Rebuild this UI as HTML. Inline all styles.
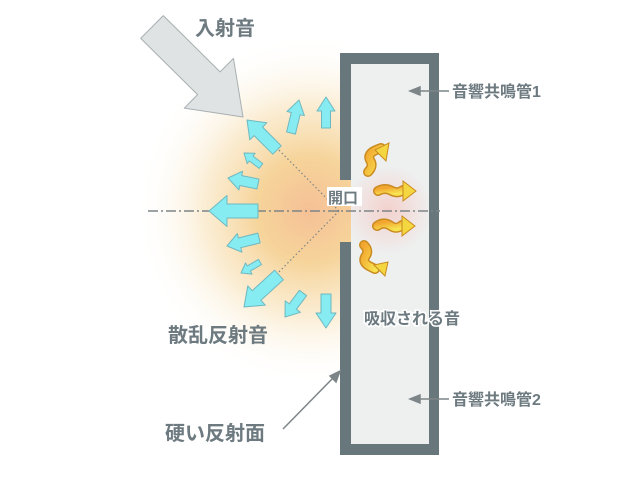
<!DOCTYPE html>
<html><head><meta charset="utf-8"><style>
html,body{margin:0;padding:0;background:#fff;width:640px;height:480px;overflow:hidden}
svg{display:block}
text{font-family:"Liberation Sans","Noto Sans CJK JP",sans-serif;font-weight:bold;fill:#6d7a80}
</style></head><body>
<svg id="s" width="640" height="480" viewBox="0 0 640 480" xmlns="http://www.w3.org/2000/svg">
<defs>
<radialGradient id="glow" cx="310" cy="210" r="175" gradientUnits="userSpaceOnUse">
<stop offset="0" stop-color="#f5c096"/>
<stop offset="0.3" stop-color="#f6d49a"/>
<stop offset="0.6" stop-color="#faeacc" stop-opacity="0.85"/>
<stop offset="1" stop-color="#ffffff" stop-opacity="0"/>
</radialGradient>
<radialGradient id="rg" cx="0.5" cy="0.5" r="0.5">
<stop offset="0" stop-color="#f7b8b0" stop-opacity="0.55"/>
<stop offset="1" stop-color="#f7b8b0" stop-opacity="0"/>
</radialGradient>
<linearGradient id="og" x1="0" y1="0" x2="1" y2="1">
<stop offset="0" stop-color="#f2a630"/><stop offset="1" stop-color="#f7e250"/>
</linearGradient>
<clipPath id="cl"><rect x="0" y="0" width="351" height="480"/></clipPath>
</defs>
<ellipse cx="300" cy="212" rx="170" ry="180" fill="url(#glow)" clip-path="url(#cl)"/>
<rect x="351" y="64" width="78" height="380" fill="#eef0f0"/>
<circle cx="388" cy="210" r="45" fill="url(#rg)"/>
<path d="M340 180 V53 H439 V455 H340 V242 H351 V444 H429 V64 H351 V180 Z" fill="#68777b"/>
<line x1="148" y1="211" x2="440" y2="211" stroke="#7d8588" stroke-width="1.5" stroke-dasharray="10,3,2,3"/>
<line x1="339" y1="211" x2="272" y2="143" stroke="#7d8588" stroke-width="1.2" stroke-dasharray="1.5,2.5"/>
<line x1="339" y1="211" x2="272" y2="279" stroke="#7d8588" stroke-width="1.2" stroke-dasharray="1.5,2.5"/>
<g id="arrows"></g>
<rect x="327" y="187" width="35" height="19" fill="#fff"/>
<text x="328" y="203" font-size="15">開口</text>
<text x="195" y="35" font-size="20">入射音</text>
<text x="168" y="342" font-size="20">散乱反射音</text>
<text x="165" y="440" font-size="20">硬い反射面</text>
<text x="364" y="324" font-size="16" style="paint-order:stroke" stroke="#fff" stroke-width="3">吸収される音</text>
<text x="452" y="97" font-size="16">音響共鳴管1</text>
<text x="452" y="405" font-size="16">音響共鳴管2</text>
<g stroke="#7d8588" stroke-width="1.5" fill="#7d8588">
<line x1="449" y1="91" x2="418" y2="91"/><polygon points="410,91 420,87 420,95"/>
<line x1="449" y1="399" x2="418" y2="399"/><polygon points="410,399 420,395 420,403"/>
<line x1="283" y1="429" x2="334" y2="377"/><polygon points="340,371 330,376 336,382"/>
</g>
</svg>
<script>
var g=document.getElementById('arrows'),NS='http://www.w3.org/2000/svg';
function arrow(tx,ty,hx,hy,sw,hw,hl,fill,stroke){
 var dx=hx-tx,dy=hy-ty,L=Math.hypot(dx,dy),ux=dx/L,uy=dy/L,px=-uy,py=ux;
 var bx=hx-ux*hl,by=hy-uy*hl;
 var p=[[tx+px*sw/2,ty+py*sw/2],[bx+px*sw/2,by+py*sw/2],[bx+px*hw/2,by+py*hw/2],[hx,hy],
 [bx-px*hw/2,by-py*hw/2],[bx-px*sw/2,by-py*sw/2],[tx-px*sw/2,ty-py*sw/2]];
 var e=document.createElementNS(NS,'polygon');
 e.setAttribute('points',p.map(function(a){return a[0].toFixed(1)+','+a[1].toFixed(1)}).join(' '));
 e.setAttribute('fill',fill);e.setAttribute('stroke',stroke);e.setAttribute('stroke-width','1');
 e.setAttribute('stroke-linejoin','round');g.appendChild(e);
}
arrow(152,27,243,117,32,70,48,'#dfe3e4','#a9b0b2');
var C='#86ecf2',S='#6fb8c0';
arrow(326,128,326,97,9,18,14,C,S);
arrow(291,133,299,100,9,18,14,C,S);
arrow(277,150,247,120,12,24,16,C,S);
arrow(261,166,244,153,6,13,9,C,S);
arrow(258,184,228,178,10,19,13,C,S);
arrow(258,211,209,211,14,31,18,C,S);
arrow(259,238,227,246,10,19,13,C,S);
arrow(260,262,241,273,6,13,9,C,S);
arrow(279,275,244,307,13,26,17,C,S);
arrow(303,293,285,317,9,19,13,C,S);
arrow(326,294,326,328,10,20,15,C,S);
function sq(d){var e=document.createElementNS(NS,'path');e.setAttribute('d',d);e.setAttribute('fill','none');
 e.setAttribute('stroke','#c98a20');e.setAttribute('stroke-width','10');e.setAttribute('stroke-linecap','round');g.appendChild(e);
 var f=e.cloneNode();f.setAttribute('stroke','url(#og)');f.setAttribute('stroke-width','7');g.appendChild(f);}
function tri(p){var e=document.createElementNS(NS,'polygon');e.setAttribute('points',p);e.setAttribute('fill','#f4d640');e.setAttribute('stroke','#c98a20');g.appendChild(e);}
sq('M368 172 q6-6 2-12 q-3-6 6-10 l5-2');tri('389,143 375,150 386,161');
sq('M378 191 q7-4 14 0 q6 3 11 -1');tri('416,191 403,181 403,201');
sq('M377 226 q7-5 14 0 q6 4 11 -1');tri('415,226 402,216 402,236');
sq('M364 245 q6 6 1 12 q-3 6 6 10 l4 2');tri('385,276 388,262 374,265');
</script>
</body></html>
